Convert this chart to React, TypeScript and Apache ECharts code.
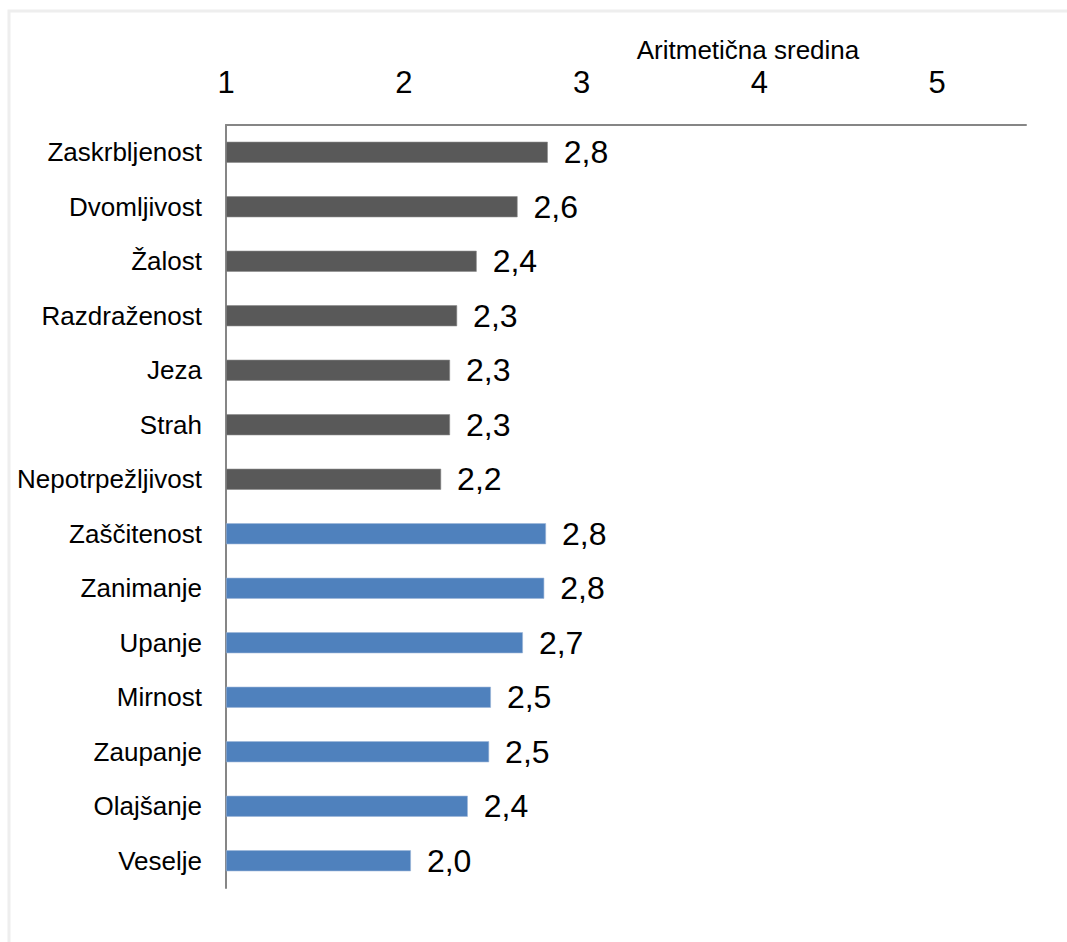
import React, { useEffect, useRef } from "react";
import * as echarts from "echarts";

const categories = [
  "Zaskrbljenost",
  "Dvomljivost",
  "Žalost",
  "Razdraženost",
  "Jeza",
  "Strah",
  "Nepotrpežljivost",
  "Zaščitenost",
  "Zanimanje",
  "Upanje",
  "Mirnost",
  "Zaupanje",
  "Olajšanje",
  "Veselje",
];
const negativeValues = [2.81, 2.64, 2.41, 2.3, 2.26, 2.26, 2.21];
const positiveValues = [2.8, 2.79, 2.67, 2.49, 2.48, 2.36, 2.04];
const tickValues = [1, 2, 3, 4, 5];
const axisTitle = "Aritmetična sredina";

const GRAY = "#595959";
const BLUE = "#4f81bd";
const FONT = "'Liberation Sans', Arial, sans-serif";

export default function App() {
  const ref = useRef<HTMLDivElement>(null);
  useEffect(() => {
    if (!ref.current) return;
    const chart = echarts.init(ref.current, null, { renderer: "svg" });
    const data = [
      ...negativeValues.map((v) => ({ value: v, itemStyle: { color: GRAY, borderColor: "#8a8a8a", borderWidth: 0.6 } })),
      ...positiveValues.map((v) => ({ value: v, itemStyle: { color: BLUE, borderColor: "#9cb6d8", borderWidth: 0.6 } })),
    ];
    chart.setOption({
      animation: false,
      backgroundColor: "#ffffff",
      graphic: [
        {
          type: "rect",
          shape: { x: 9, y: 11, width: 1100, height: 1000 },
          style: { fill: "none", stroke: "#eeeeee", lineWidth: 3 },
          silent: true,
        },
        {
          type: "text",
          x: 748,
          y: 50,
          style: {
            text: axisTitle,
            font: `26px ${FONT}`,
            fill: "#000",
            textAlign: "center",
            textVerticalAlign: "middle",
          },
        },
      ],
      grid: { left: 226, right: 41, top: 125, bottom: 54, containLabel: false },
      xAxis: {
        type: "value",
        position: "top",
        min: 1,
        max: 5.5,
        interval: 1,
        startValue: 1,
        axisLine: { show: true, lineStyle: { color: "#868686", width: 2 } },
        axisTick: { show: false },
        splitLine: { show: false },
        axisLabel: {
          show: true,
          margin: 27,
          fontSize: 31,
          fontFamily: FONT,
          color: "#000",
          showMaxLabel: false,
          formatter: (v: number) => (tickValues.includes(v) ? String(v) : ""),
        },
      },
      yAxis: {
        type: "category",
        data: categories,
        inverse: true,
        axisLine: { show: true, lineStyle: { color: "#868686", width: 2 } },
        axisTick: { show: false },
        axisLabel: { margin: 24, fontSize: 26, fontFamily: FONT, color: "#000" },
      },
      series: [
        {
          type: "bar",
          data,
          barWidth: 21,
          clip: true,
          label: {
            show: true,
            position: "right",
            distance: 16,
            fontSize: 32,
            fontFamily: FONT,
            color: "#000",
            formatter: (p: any) => Number(p.value).toFixed(1).replace(".", ","),
          },
        },
      ],
    });
    return () => chart.dispose();
  }, []);
  return (
    <div
      ref={ref}
      style={{ position: "fixed", left: 0, top: 0, width: 1067, height: 942, background: "#fff" }}
    />
  );
}
